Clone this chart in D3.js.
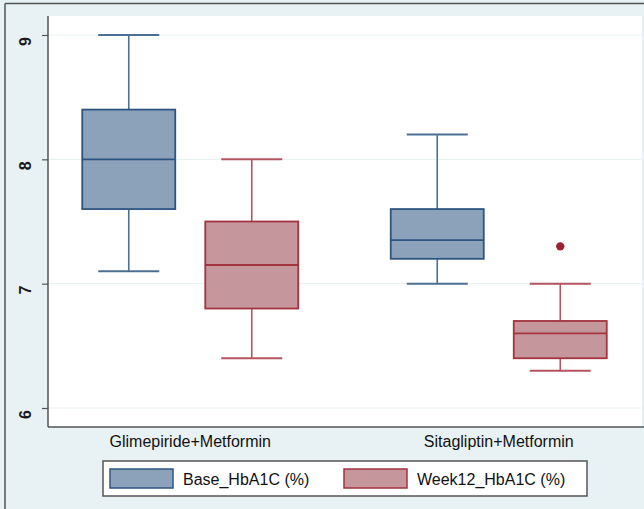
<!DOCTYPE html>
<html><head><meta charset="utf-8">
<script src="https://cdn.jsdelivr.net/npm/d3@7"></script>
<style>html,body{margin:0;padding:0;background:#e8f1f3;}svg{display:block;}</style>
</head><body>
<svg id="c" width="644" height="509"></svg>
<script>
const groups = ["Glimepiride+Metformin", "Sitagliptin+Metformin"];
const series = ["Base_HbA1C (%)", "Week12_HbA1C (%)"];
// [min, q1, median, q3, max] per group per series
const baseStats = [[7.1, 7.6, 8.0, 8.4, 9.0], [7.0, 7.2, 7.35, 7.6, 8.2]];
const week12Stats = [[6.4, 6.8, 7.15, 7.5, 8.0], [6.3, 6.4, 6.6, 6.7, 7.0]];
const baseOutliers = [[], []];
const week12Outliers = [[], [7.3]];
const yTicks = [6, 7, 8, 9];

const colors = {
  fill: ["#8ca2ba", "#c5979c"],
  stroke: ["#2d5581", "#a3333f"],
  whisker: ["#4d6f92", "#b5535e"],
  outlier: "#9c2331"
};
const FONT = "Liberation Sans, Arial, Helvetica, sans-serif";

const svg = d3.select("#c");
const W = 644, H = 509;
svg.append("rect").attr("width", W).attr("height", H).attr("fill", "#e8f1f3");
// outer border
svg.append("line").attr("x1", 5).attr("x2", W).attr("y1", 3.5).attr("y2", 3.5).attr("stroke", "#555").attr("stroke-width", 1.5);
svg.append("line").attr("x1", 5).attr("x2", 5).attr("y1", 3.5).attr("y2", H).attr("stroke", "#555").attr("stroke-width", 1.5);

const plot = {l: 48, r: 642, t: 16, b: 427};
svg.append("rect").attr("x", plot.l).attr("y", plot.t).attr("width", plot.r - plot.l).attr("height", plot.b - plot.t).attr("fill", "#ffffff");

const y = d3.scaleLinear().domain([6, 9]).range([408, 35]);
const xg = d3.scaleBand().domain(groups).range([36, 653]).padding(0);
const xs = d3.scalePoint().domain(series).range([0, xg.bandwidth()]).padding(0.754);
const boxW = 93, capW = 61;

// gridlines
svg.append("g").selectAll("line").data(yTicks).join("line")
  .attr("x1", plot.l).attr("x2", plot.r)
  .attr("y1", d => y(d)).attr("y2", d => y(d))
  .attr("stroke", "#e6eff1").attr("stroke-width", 1);

// y axis
const yAxis = d3.axisLeft(y).tickValues(yTicks).tickSize(6).tickPadding(0).tickFormat(d3.format("d"));
const ga = svg.append("g").attr("transform", `translate(${plot.l},0)`).call(yAxis);
ga.select(".domain").remove();
ga.selectAll(".tick line").attr("stroke", "#555").attr("stroke-width", 1.2);
ga.selectAll(".tick text").attr("transform", "translate(-23,0) rotate(-90)")
  .attr("text-anchor", "middle").attr("dy", "0.36em")
  .attr("font-family", FONT).attr("font-size", 16).attr("font-weight", "bold").attr("fill", "#1a1a1a");
svg.append("line").attr("x1", plot.l).attr("x2", plot.l).attr("y1", plot.t).attr("y2", plot.b).attr("stroke", "#555").attr("stroke-width", 1.5);
svg.append("line").attr("x1", plot.l).attr("x2", W).attr("y1", plot.b).attr("y2", plot.b).attr("stroke", "#555").attr("stroke-width", 1.5);

// boxes
const allStats = [baseStats, week12Stats];
const allOut = [baseOutliers, week12Outliers];
const data = [];
groups.forEach((g, gi) => series.forEach((s, si) => {
  const st = allStats[si][gi];
  data.push({g, s, si, min: st[0], q1: st[1], med: st[2], q3: st[3], max: st[4], out: allOut[si][gi]});
}));

const bx = svg.append("g").selectAll("g").data(data).join("g")
  .attr("transform", d => `translate(${xg(d.g) + xs(d.s)},0)`);
// whiskers
bx.append("line").attr("x1", 0).attr("x2", 0).attr("y1", d => y(d.q3)).attr("y2", d => y(d.max))
  .attr("stroke", d => colors.whisker[d.si]).attr("stroke-width", 1.6);
bx.append("line").attr("x1", 0).attr("x2", 0).attr("y1", d => y(d.q1)).attr("y2", d => y(d.min))
  .attr("stroke", d => colors.whisker[d.si]).attr("stroke-width", 1.6);
bx.append("line").attr("x1", -capW / 2).attr("x2", capW / 2).attr("y1", d => y(d.max)).attr("y2", d => y(d.max))
  .attr("stroke", d => colors.whisker[d.si]).attr("stroke-width", 2);
bx.append("line").attr("x1", -capW / 2).attr("x2", capW / 2).attr("y1", d => y(d.min)).attr("y2", d => y(d.min))
  .attr("stroke", d => colors.whisker[d.si]).attr("stroke-width", 2);
// box
bx.append("rect").attr("x", -boxW / 2).attr("width", boxW)
  .attr("y", d => y(d.q3)).attr("height", d => y(d.q1) - y(d.q3))
  .attr("fill", d => colors.fill[d.si]).attr("stroke", d => colors.stroke[d.si]).attr("stroke-width", 1.8);
bx.append("line").attr("x1", -boxW / 2).attr("x2", boxW / 2).attr("y1", d => y(d.med)).attr("y2", d => y(d.med))
  .attr("stroke", d => colors.stroke[d.si]).attr("stroke-width", 1.8);
// outliers
bx.selectAll("circle").data(d => d.out).join("circle")
  .attr("cx", 0).attr("cy", v => y(v)).attr("r", 4.2).attr("fill", colors.outlier);

// group labels
svg.append("g").selectAll("text").data(groups).join("text")
  .attr("x", d => xg(d) + xg.bandwidth() / 2).attr("y", 447)
  .attr("text-anchor", "middle").attr("font-family", FONT)
  .attr("font-size", 16).attr("fill", "#111").text(d => d);

// legend
const lg = svg.append("g");
lg.append("rect").attr("x", 103).attr("y", 461).attr("width", 484).attr("height", 35)
  .attr("fill", "#fff").attr("stroke", "#555").attr("stroke-width", 1.5);
const legX = [110, 344];
series.forEach((s, i) => {
  lg.append("rect").attr("x", legX[i]).attr("y", 469).attr("width", 63).attr("height", 19)
    .attr("fill", colors.fill[i]).attr("stroke", colors.stroke[i]).attr("stroke-width", 1.5);
  lg.append("text").attr("x", legX[i] + 73).attr("y", 485).attr("font-family", FONT)
    .attr("font-size", 16).attr("fill", "#111").text(s);
});
</script>
</body></html>
